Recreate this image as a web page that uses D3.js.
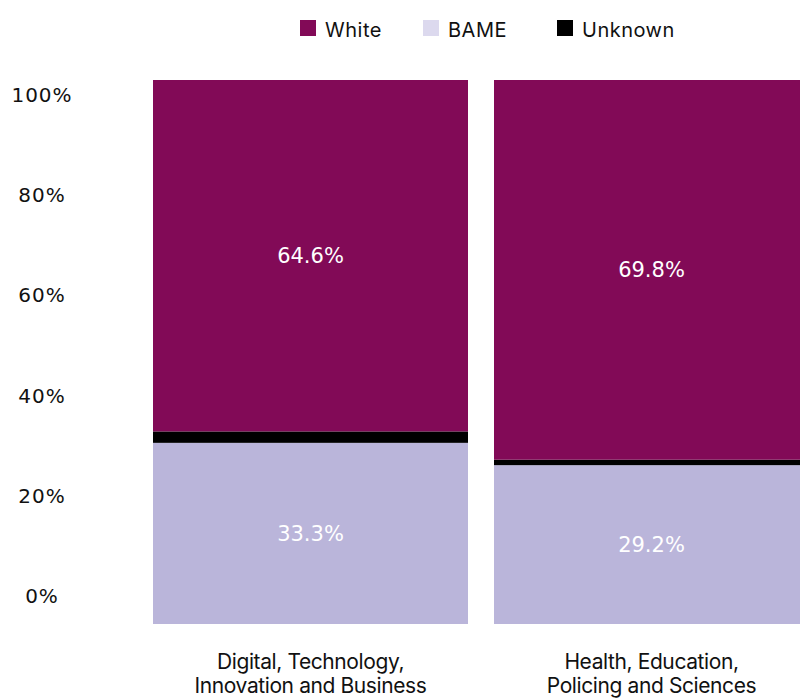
<!DOCTYPE html>
<html>
<head>
<meta charset="utf-8">
<script src="https://cdn.jsdelivr.net/npm/d3@7"></script>
<style>
  html, body { margin: 0; padding: 0; background: #fff; }
  svg { display: block; }
</style>
</head>
<body>
<svg id="chart" width="800" height="698"></svg>
<script>
// Faculty categories (two-line labels)
const categories = [
  ["Digital, Technology,", "Innovation and Business"],
  ["Health, Education,", "Policing and Sciences"]
];
// Series stacked bottom to top
const seriesNames = ["BAME", "Unknown", "White"];
const bameValues = [33.3, 29.2];
const unknownValues = [2.1, 1.0];
const whiteValues = [64.6, 69.8];
// Legend order
const legendNames = ["White", "BAME", "Unknown"];
// Axis tick values (percent)
const tickValues = [0, 20, 40, 60, 80, 100];

const colors = { White: "#820a57", BAME: "#bab5da", Unknown: "#000000" };
const legendColors = { White: "#820a57", BAME: "#dcd9ee", Unknown: "#000000" };

const svg = d3.select("#chart");
const catKeys = categories.map(c => c.join(" "));

const rows = catKeys.map((k, i) => ({
  key: k,
  BAME: bameValues[i],
  Unknown: unknownValues[i],
  White: whiteValues[i]
}));

const x = d3.scaleBand()
  .domain(catKeys)
  .range([153, 809])
  .paddingInner(26 / 341)
  .paddingOuter(0);

const y = d3.scaleLinear().domain([0, 100]).range([624, 80]);

const stack = d3.stack().keys(seriesNames);
const stacked = stack(rows);

// Bars
const layers = svg.append("g").selectAll("g")
  .data(stacked)
  .join("g")
  .attr("fill", d => colors[d.key]);

layers.selectAll("rect")
  .data(d => d.map(p => ({ p, key: d.key })))
  .join("rect")
  .attr("x", d => x(d.p.data.key))
  .attr("width", x.bandwidth())
  .attr("y", d => y(d.p[1]))
  .attr("height", d => y(d.p[0]) - y(d.p[1]));

// Value labels on White and BAME segments
const labelled = stacked.filter(s => s.key === "White" || s.key === "BAME");
svg.append("g").selectAll("g")
  .data(labelled)
  .join("g")
  .selectAll("text")
  .data(d => d.map(p => ({ p, key: d.key })))
  .join("text")
  .attr("x", d => x(d.p.data.key) + x.bandwidth() / 2)
  .attr("y", d => (y(d.p[0]) + y(d.p[1])) / 2)
  .attr("dy", "0.35em")
  .attr("text-anchor", "middle")
  .attr("fill", "#ffffff")
  .style("font-family", "'DejaVu Sans', sans-serif")
  .style("font-size", "21px")
  .text(d => d.p.data[d.key].toFixed(1) + "%");

// Y axis labels
const yLabel = d3.scaleLinear().domain([0, 100]).range([596, 95]);
const yAxis = svg.append("g")
  .attr("transform", "translate(42,0)")
  .call(d3.axisLeft(yLabel).tickValues(tickValues).tickSize(0).tickPadding(0)
    .tickFormat(d => d + "%"));
yAxis.select(".domain").remove();
yAxis.selectAll("text")
  .attr("text-anchor", "middle")
  .attr("fill", "#111")
  .style("font-family", "'DejaVu Sans', sans-serif")
  .style("font-size", "20px")
  .style("letter-spacing", "1px");

// X axis category labels
const xAxis = svg.append("g")
  .attr("transform", "translate(0,624)")
  .call(d3.axisBottom(x).tickSize(0).tickFormat(() => ""));
xAxis.select(".domain").remove();
xAxis.selectAll(".tick text").remove();
xAxis.selectAll(".tick").each(function(d, i) {
  const t = d3.select(this).append("text")
    .attr("text-anchor", "middle")
    .attr("fill", "#111")
    .style("font-family", "Inter, sans-serif")
    .style("font-size", "21px")
    .style("letter-spacing", "-0.4px");
  categories[i].forEach((line, j) => {
    t.append("tspan").attr("x", 0).attr("y", 45 + j * 24).text(line);
  });
});

// Legend
const legendX = [300, 423, 557];
const legend = svg.append("g").selectAll("g")
  .data(legendNames)
  .join("g")
  .attr("transform", (d, i) => `translate(${legendX[i]},20)`);
legend.append("rect")
  .attr("width", 16).attr("height", 16)
  .attr("fill", d => legendColors[d]);
legend.append("text")
  .attr("x", 25).attr("y", 17)
  .attr("fill", "#111")
  .style("font-family", "Inter, sans-serif")
  .style("font-size", "20px")
  .style("letter-spacing", "0.5px")
  .text(d => d);
</script>
</body>
</html>
